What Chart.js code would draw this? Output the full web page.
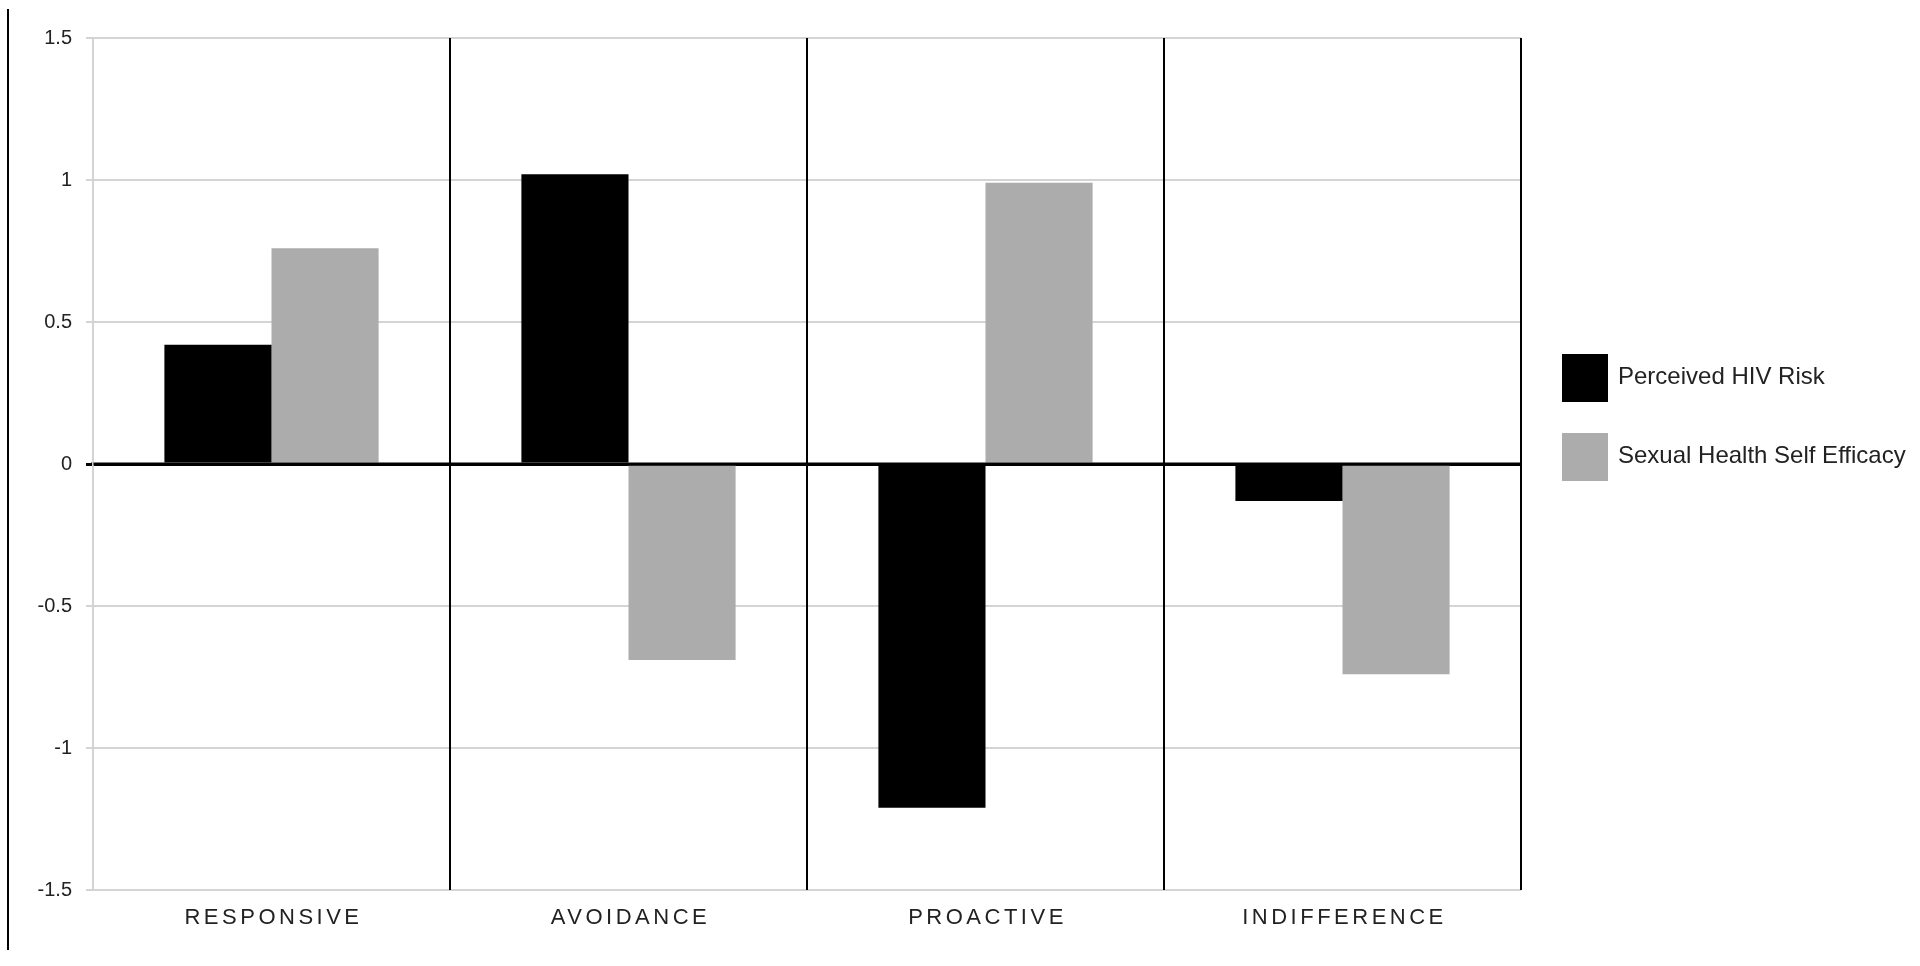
<!DOCTYPE html>
<html>
<head>
<meta charset="utf-8">
<script src="https://cdn.jsdelivr.net/npm/chart.js@4/dist/chart.umd.min.js"></script>
<style>
  html, body { margin: 0; padding: 0; background: #fff; }
  #wrap { position: relative; width: 1920px; height: 966px; }
  #edge { position: absolute; left: 7px; top: 9px; width: 2px; height: 941px; background: #000; }
  canvas { position: absolute; left: 0; top: 0; }
</style>
</head>
<body>
<div id="wrap">
  <canvas id="c" width="1920" height="966"></canvas>
  <div id="edge"></div>
</div>
<script>
const categories = ['RESPONSIVE', 'AVOIDANCE', 'PROACTIVE', 'INDIFFERENCE'];
const seriesNames = ['Perceived HIV Risk', 'Sexual Health Self Efficacy'];
const perceivedHivRisk = [0.42, 1.02, -1.21, -0.13];
const sexualHealthSelfEfficacy = [0.76, -0.69, 0.99, -0.74];
const seriesColors = ['#000000', '#acacac'];
const yTickValues = [-1.5, -1, -0.5, 0, 0.5, 1, 1.5];
const yTickLabels = ['-1.5', '-1', '-0.5', '0', '0.5', '1', '1.5'];

const FONT = '"Liberation Sans", Arial, sans-serif';

const customLabels = {
  id: 'customLabels',
  afterDraw(chart) {
    const ctx = chart.ctx;
    const xs = chart.scales.x;
    const area = chart.chartArea;
    ctx.save();
    ctx.font = '22px ' + FONT;
    ctx.fillStyle = '#222';
    ctx.textAlign = 'center';
    ctx.textBaseline = 'middle';
    try { ctx.letterSpacing = '3.5px'; } catch (e) {}
    chart.data.labels.forEach((lab, i) => {
      const x = xs.getPixelForTick(i) + 2;
      ctx.fillText(lab, x, area.bottom + 28);
    });
    try { ctx.letterSpacing = '0px'; } catch (e) {}
    const lx = area.right + 41;
    let ly = area.top + 316;
    ctx.textAlign = 'left';
    ctx.font = '24px ' + FONT;
    chart.data.datasets.forEach((ds) => {
      ctx.fillStyle = ds.backgroundColor;
      ctx.fillRect(lx, ly, 46, 48);
      ctx.fillStyle = '#222';
      ctx.fillText(ds.label, lx + 56, ly + 23);
      ly += 79;
    });
    ctx.restore();
  }
};

const zeroLine = {
  id: 'zeroLine',
  afterDatasetsDraw(chart) {
    const ctx = chart.ctx;
    const y = chart.scales.y.getPixelForValue(0);
    const a = chart.chartArea;
    ctx.save();
    ctx.strokeStyle = '#000';
    ctx.lineWidth = 3;
    ctx.beginPath();
    ctx.moveTo(a.left - 2, y);
    ctx.lineTo(a.right, y);
    ctx.stroke();
    ctx.restore();
  }
};

new Chart(document.getElementById('c'), {
  type: 'bar',
  data: {
    labels: categories,
    datasets: [
      { label: seriesNames[0], data: perceivedHivRisk, backgroundColor: seriesColors[0], borderWidth: 0 },
      { label: seriesNames[1], data: sexualHealthSelfEfficacy, backgroundColor: seriesColors[1], borderWidth: 0 }
    ]
  },
  options: {
    responsive: false,
    animation: false,
    devicePixelRatio: 1,
    layout: { padding: { left: 0, right: 399, top: 38, bottom: 0 } },
    plugins: { legend: { display: false }, tooltip: { enabled: false } },
    datasets: { bar: { categoryPercentage: 0.6, barPercentage: 1.0 } },
    scales: {
      x: {
        offset: true,
        grid: {
          offset: true,
          drawTicks: false,
          z: 1,
          color: (c) => c.index === 0 ? '#d4d4d4' : '#000000',
          lineWidth: (c) => c.index === 0 ? 1.5 : 2
        },
        border: { display: false },
        ticks: { display: false },
        afterFit: (s) => { s.height = 76; }
      },
      y: {
        min: -1.5,
        max: 1.5,
        afterBuildTicks: (s) => { s.ticks = yTickValues.map(v => ({ value: v })); },
        grid: {
          color: (c) => (c.tick && c.tick.value === 0) ? '#000000' : '#d4d4d4',
          lineWidth: (c) => (c.tick && c.tick.value === 0) ? 3 : 2,
          tickLength: 7
        },
        border: { display: true, color: '#d4d4d4', width: 2 },
        ticks: {
          color: '#222',
          font: { family: FONT, size: 20 },
          padding: 14,
          callback: (v) => yTickLabels[yTickValues.indexOf(v)]
        },
        afterFit: (s) => { s.width = 93; }
      }
    }
  },
  plugins: [zeroLine, customLabels]
});
</script>
</body>
</html>
